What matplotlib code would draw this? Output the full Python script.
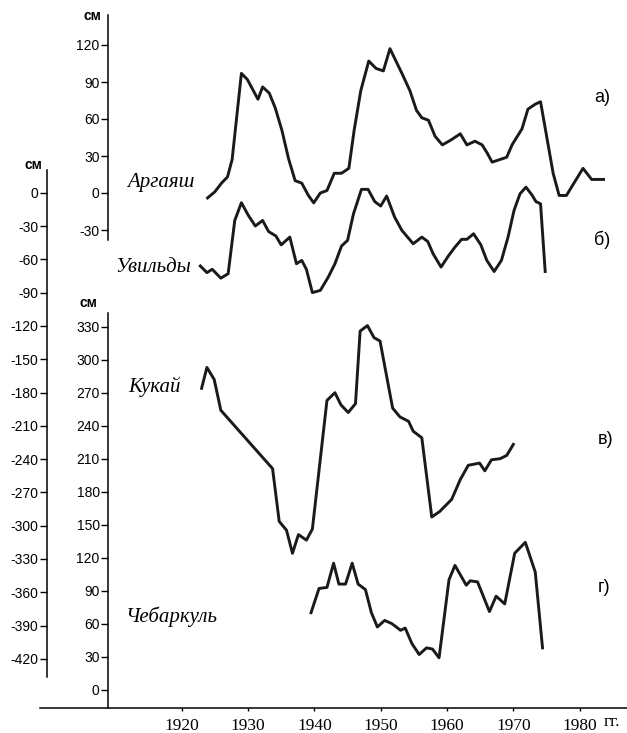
import matplotlib
matplotlib.use("Agg")
import matplotlib.pyplot as plt
from matplotlib import font_manager

# ---------------- data ----------------
argayash_years = [1923.9, 1925.0, 1926.0, 1926.9, 1927.6, 1929.0, 1929.9, 1931.5, 1932.2, 1933.2,
                  1934.1, 1935.1, 1936.1, 1937.1, 1938.1, 1939.1, 1939.9, 1940.9, 1941.9, 1943.0,
                  1944.1, 1945.2, 1946.0, 1947.0, 1948.2, 1949.3, 1950.4, 1951.4, 1953.2, 1954.4,
                  1955.4, 1956.2, 1957.2, 1958.2, 1959.3, 1960.6, 1962.0, 1963.0, 1964.2, 1965.3,
                  1966.1, 1966.8, 1969.0, 1969.8, 1971.3, 1972.2, 1973.3, 1974.1, 1976.0, 1976.9,
                  1978.0, 1980.5, 1981.8, 1983.6]
argayash_cm = [-4, 1, 8, 13, 27, 97, 92, 76, 86, 81,
               69, 51, 28, 10, 8, -2, -8, 0, 2, 16,
               16, 20, 51, 83, 107, 101, 99, 117, 97, 83,
               67, 61, 59, 46, 39, 43, 48, 39, 42, 39,
               32, 25, 29, 39, 52, 68, 72, 74, 16, -2,
               -2, 20, 11, 11]

uvildy_years = [1922.8, 1923.8, 1924.6, 1925.9, 1927.0, 1928.0, 1929.0, 1930.0, 1931.1, 1932.2,
                1933.1, 1934.2, 1935.0, 1936.3, 1937.3, 1938.1, 1938.8, 1939.7, 1940.9, 1942.1,
                1943.1, 1944.1, 1945.0, 1945.9, 1947.1, 1948.1, 1949.1, 1950.0, 1950.9, 1952.1,
                1953.2, 1954.9, 1956.2, 1957.1, 1957.9, 1959.1, 1960.2, 1961.2, 1962.2, 1963.0,
                1964.0, 1965.1, 1966.0, 1967.1, 1968.2, 1969.2, 1970.1, 1971.0, 1971.9, 1972.8,
                1973.4, 1974.1, 1974.8]
uvildy_cm = [-66, -72, -69, -77, -73, -25, -9, -20, -30, -25,
             -35, -39, -47, -40, -64, -61, -69, -90, -88, -76,
             -64, -48, -43, -19, 3, 3, -8, -12, -3, -22,
             -34, -46, -40, -44, -55, -67, -57, -49, -42, -42,
             -37, -47, -61, -71, -61, -40, -16, -1, 5, -2,
             -8, -10, -71]

kukay_years = [1923.0, 1923.8, 1924.9, 1925.9, 1933.7, 1934.7, 1935.8, 1936.7, 1937.6, 1938.8,
               1939.7, 1941.9, 1943.1, 1944.0, 1945.1, 1946.2, 1946.9, 1948.0, 1949.0, 1949.9,
               1951.8, 1952.9, 1954.2, 1954.9, 1956.2, 1957.7, 1958.9, 1960.7, 1962.0, 1963.2,
               1964.9, 1965.7, 1966.7, 1968.0, 1969.0, 1970.0]
kukay_cm = [274, 293, 282, 254, 201, 153, 145, 124, 141, 136,
            146, 263, 270, 259, 252, 260, 326, 331, 320, 317,
            256, 248, 244, 235, 229, 157, 162, 173, 191, 204,
            206, 199, 209, 210, 213, 223]

chebarkul_years = [1939.5, 1940.7, 1941.9, 1942.9, 1943.7, 1944.7, 1945.7, 1946.6, 1947.7, 1948.6,
                   1949.5, 1950.6, 1951.7, 1953.0, 1953.7, 1954.7, 1955.8, 1956.9, 1957.8, 1958.8,
                   1960.3, 1961.2, 1962.9, 1963.5, 1964.6, 1966.4, 1967.4, 1968.7, 1970.2, 1971.8,
                   1973.3, 1974.4]
chebarkul_cm = [70, 92, 93, 115, 96, 96, 115, 96, 91, 70,
                57, 63, 60, 54, 56, 42, 32, 38, 37, 29,
                100, 113, 95, 99, 98, 71, 85, 78, 124, 134,
                107, 38]

year_ticks = [1920, 1930, 1940, 1950, 1960, 1970, 1980]
argayash_ticks = [-30, 0, 30, 60, 90, 120]
uvildy_ticks = [0, -30, -60, -90, -120, -150, -180, -210, -240, -270, -300, -330, -360, -390, -420]
kukay_ticks = [0, 30, 60, 90, 120, 150, 180, 210, 240, 270, 300, 330]

names = ["Аргаяш", "Увильды", "Кукай", "Чебаркуль"]
panel_tags = ["а)", "б)", "в)", "г)"]
unit = "см"
year_unit = "гг."

# ---------------- fonts ----------------
def has_font(name):
    try:
        font_manager.findfont(font_manager.FontProperties(family=name), fallback_to_default=False)
        return True
    except Exception:
        return False

if has_font("Liberation Sans Narrow"):
    tick_family, tick_size = "Liberation Sans Narrow", 11.5
else:
    tick_family, tick_size = "Liberation Sans", 10
serif = "Liberation Serif"

# ---------------- layout (pixels) ----------------
W, H = 627, 733
X0, X1 = 40, 627          # horizontal extent of plotting area
YTOP, YBOT = 10, 708      # vertical extent; YBOT is the x-axis line
PX_PER_YEAR = 6.633
X_1920 = 181.7

def fx(px):
    return px / W

def fy(py):
    return 1 - py / H

rect = [fx(X0), fy(YBOT), (X1 - X0) / W, (YBOT - YTOP) / H]
xlim = (1920 + (X0 - X_1920) / PX_PER_YEAR, 1920 + (X1 - X_1920) / PX_PER_YEAR)

def ylim_from(y_ref_px, v_ref, px_per_unit):
    return (v_ref - (YBOT - y_ref_px) / px_per_unit, v_ref + (y_ref_px - YTOP) / px_per_unit)

fig = plt.figure(figsize=(W / 100, H / 100), dpi=100)
fig.patch.set_facecolor("white")

# base axis: the year axis
ax0 = fig.add_axes(rect)
ax0.set_xlim(*xlim)
ax0.set_ylim(0, 1)
for s in ["top", "right", "left"]:
    ax0.spines[s].set_visible(False)
ax0.spines["bottom"].set_linewidth(1.1)
ax0.set_yticks([])
ax0.set_xticks(year_ticks)
ax0.set_xticklabels([str(y) for y in year_ticks], family=serif, fontsize=12.5)
ax0.tick_params(axis="x", direction="out", length=2.5, width=1.0, pad=4.5)
ax0.annotate(year_unit, xy=(year_ticks[-1], 0), xycoords=("data", "axes fraction"),
             xytext=(17, -4.5), textcoords="offset points", ha="left", va="top",
             family=serif, fontsize=12.5)
ax0.patch.set_alpha(0)


def make_y_axis(ylim, spine_px, bounds, ticks):
    ax = fig.add_axes(rect, sharex=ax0)
    ax.patch.set_alpha(0)
    ax.set_ylim(*ylim)
    for s in ["top", "right", "bottom"]:
        ax.spines[s].set_visible(False)
    ax.spines["left"].set_position(("axes", (spine_px - X0) / (X1 - X0)))
    ax.spines["left"].set_bounds(*bounds)
    ax.spines["left"].set_linewidth(1.1)
    ax.set_yticks(ticks)
    ax.set_yticklabels([str(t) for t in ticks], family=tick_family, fontsize=tick_size)
    ax.tick_params(axis="y", direction="out", length=5, width=1.0, pad=1)
    ax.tick_params(axis="x", which="both", bottom=False, labelbottom=False)
    return ax

# Аргаяш axis: 0 at y=193 px, 37 px per 30 cm
ppu_a = 37 / 30
ylim_a = ylim_from(193, 0, ppu_a)
axA = make_y_axis(ylim_a, 108, ((193 - 240) / ppu_a, (193 - 15) / ppu_a), argayash_ticks)

# Увильды axis: 0 at y=192.7 px, 33.3 px per 30 cm
ppu_u = 33.3 / 30
ylim_u = ylim_from(192.7, 0, ppu_u)
axU = make_y_axis(ylim_u, 46.7, ((192.7 - 677) / ppu_u, (192.7 - 170) / ppu_u), uvildy_ticks)

# Кукай / Чебаркуль axis: 0 at y=689.7 px, 33 px per 30 cm
ppu_k = 33 / 30
ylim_k = ylim_from(689.7, 0, ppu_k)
axK = make_y_axis(ylim_k, 108, ((689.7 - YBOT) / ppu_k, (689.7 - 313) / ppu_k), kukay_ticks)

axA.set_xlim(*xlim)

lw = 2.1
axA.plot(argayash_years, argayash_cm, color="#1a1a1a", lw=lw)
axU.plot(uvildy_years, uvildy_cm, color="#1a1a1a", lw=lw)
axK.plot(kukay_years, kukay_cm, color="#1a1a1a", lw=lw)
axK.plot(chebarkul_years, chebarkul_cm, color="#1a1a1a", lw=lw)

# unit labels
for (px, py) in [(92, 16), (33, 165), (88, 303)]:
    fig.text(fx(px), fy(py), unit, family="Liberation Sans", fontsize=10,
             weight="bold", ha="center", va="center")

# lake names
for name, (px, py) in zip(names, [(127, 183), (115, 267), (128, 387), (126, 617)]):
    fig.text(fx(px), fy(py), name, family=serif, style="italic", fontsize=15,
             ha="left", va="center")

# panel tags
for tag, (px, py) in zip(panel_tags, [(602, 97), (602, 240), (606, 440), (604, 588)]):
    fig.text(fx(px), fy(py), tag, family="Liberation Sans", fontsize=13,
             ha="center", va="center")

fig.savefig("out.png", dpi=100, facecolor="white")
